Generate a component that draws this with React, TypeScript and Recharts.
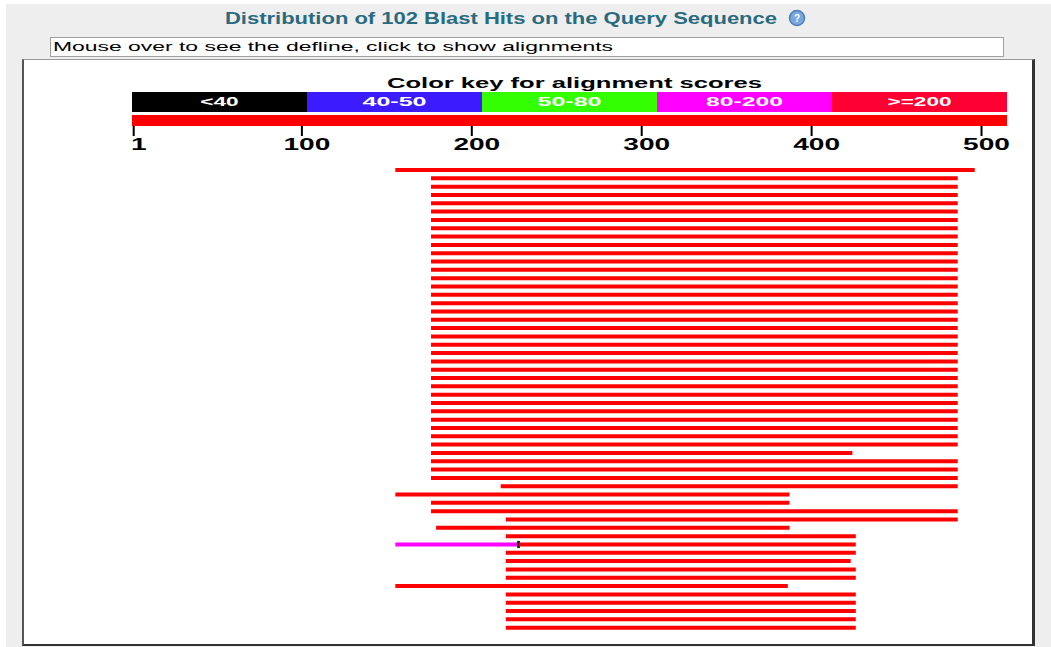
import { BarChart, Bar, XAxis, YAxis, Cell, LabelList } from "recharts"

const queryLength = 515
const axisTicks = [1, 100, 200, 300, 400, 500]

const keyLabels = ["<40", "40-50", "50-80", "80-200", ">=200"]
const keyColors = ["#000000", "#3c1cff", "#33ff00", "#ff00ff", "#ff0033"]

// hit rows, top to bottom (query coordinates)
const hitStart = [
    155, 176, 176, 176, 176, 176, 176, 176, 176, 176,
    176, 176, 176, 176, 176, 176, 176, 176, 176, 176,
    176, 176, 176, 176, 176, 176, 176, 176, 176, 176,
    176, 176, 176, 176, 176, 176, 176, 176, 217, 155,
    176, 176, 220, 179, 220, 155, 220, 220, 220, 220,
    155, 220, 220, 220, 220, 220,
]
const hitEnd = [
    496, 486, 486, 486, 486, 486, 486, 486, 486, 486,
    486, 486, 486, 486, 486, 486, 486, 486, 486, 486,
    486, 486, 486, 486, 486, 486, 486, 486, 486, 486,
    486, 486, 486, 486, 424, 486, 486, 486, 486, 387,
    387, 486, 486, 387, 426, 426, 426, 423, 426, 426,
    386, 426, 426, 426, 426, 426,
]
// part of a hit that scores in the 80-200 class (row number is 1-based)
const lowScoreParts = [{ row: 46, to: 227 }]

const FONT = "'Liberation Sans', Arial, sans-serif"
const HIT_RED = "#ff0000"

const keyRow = [
    keyLabels.reduce((acc: any, _l, i) => ({ ...acc, [`k${i}`]: 1 }), { name: "key" }),
]

const queryRow = [{ name: "Query", len: queryLength }]

const hitRows = hitStart.map((start, i) => {
    const low = lowScoreParts.find((p) => p.row === i + 1)
    const lowEnd = low ? low.to : start
    const mark = low ? 1 : 0
    return {
        name: `hit${i + 1}`,
        pad: start,
        low: lowEnd - start,
        mark,
        high: hitEnd[i] - lowEnd - mark,
    }
})

const KeyLabel = (props: any) => {
    const { x, y, width, height, value } = props
    const text = String(value)
    return (
        <text
            x={x + width / 2}
            y={y + height / 2}
            dy="0.36em"
            textAnchor="middle"
            fill="#ffffff"
            fontFamily={FONT}
            fontWeight="bold"
            fontSize={12}
            textLength={text.length * 12.8}
            lengthAdjust="spacingAndGlyphs"
        >
            {text}
        </text>
    )
}

const AxisTick = (props: any) => {
    const { x, y, payload } = props
    const text = String(payload.value)
    return (
        <text
            x={x + 5}
            y={y + 1}
            dy="0.72em"
            textAnchor="middle"
            fill="#000"
            fontFamily={FONT}
            fontWeight="bold"
            fontSize={16}
            textLength={text.length * 15.6}
            lengthAdjust="spacingAndGlyphs"
        >
            {text}
        </text>
    )
}

const QueryTick = (props: any) => {
    const { y, payload } = props
    return (
        <text
            x={122}
            y={y - 1}
            dy="0.36em"
            textAnchor="end"
            fill="#000"
            fontFamily={FONT}
            fontWeight="bold"
            fontSize={10}
            textLength={72}
            lengthAdjust="spacing"
        >
            {payload.value}
        </text>
    )
}

const GapMark = (props: any) => {
    const { x, y, width, height } = props
    if (!width || width <= 0) return null
    return <rect x={x - 0.5} y={y - 1.5} width={width + 1} height={height + 3} fill="#111" />
}

export default function App() {
    return (
        <div style={{ position: "absolute", left: 0, top: 0, width: 1051, height: 647, background: "#ffffff", overflow: "hidden" }}>
            <div style={{ position: "absolute", left: 6, top: 4, width: 1045, height: 643, background: "#eeeeee" }} />
            {/* defline box */}
            <div style={{ position: "absolute", left: 50, top: 37, width: 952, height: 18, background: "#fff", border: "1px solid #a0a0a0" }} />
            {/* scroll frame */}
            <div
                style={{
                    position: "absolute", left: 22, top: 59, width: 1008, height: 584, background: "#fff",
                    borderLeft: "2px solid #555", borderTop: "1px solid #999", borderRight: "3px solid #333", borderBottom: "2px solid #333",
                }}
            />

            <svg width={1051} height={647} style={{ position: "absolute", left: 0, top: 0 }}>
                <text x={225} y={24} fill="#2a6a7e" fontFamily={FONT} fontWeight="bold" fontSize={16} textLength={552} lengthAdjust="spacingAndGlyphs">
                    Distribution of 102 Blast Hits on the Query Sequence
                </text>
                <circle cx={797} cy={18} r={7.5} fill="#7aa7dc" stroke="#4a7cbf" strokeWidth={1.5} />
                <text x={797} y={22} textAnchor="middle" fill="#fff" fontFamily={FONT} fontWeight="bold" fontSize={10}>?</text>
                <text x={53} y={51} fill="#000" fontFamily={FONT} fontSize={13} textLength={560} lengthAdjust="spacingAndGlyphs">
                    Mouse over to see the defline, click to show alignments
                </text>
                <text x={387} y={87.5} fill="#000" fontFamily={FONT} fontWeight="bold" fontSize={14} textLength={375} lengthAdjust="spacingAndGlyphs">
                    Color key for alignment scores
                </text>
            </svg>

            {/* color key */}
            <div style={{ position: "absolute", left: 0, top: 92 }}>
                <BarChart width={1051} height={20} data={keyRow} layout="vertical" barCategoryGap={0} margin={{ top: 0, right: 44, bottom: 0, left: 132 }}>
                    <XAxis type="number" hide domain={[0, keyLabels.length]} />
                    <YAxis type="category" dataKey="name" hide />
                    {keyLabels.map((label, i) => (
                        <Bar key={label} dataKey={`k${i}`} stackId="key" fill={keyColors[i]} isAnimationActive={false}>
                            <LabelList dataKey={`k${i}`} content={(p: any) => <KeyLabel {...p} value={label} />} />
                        </Bar>
                    ))}
                </BarChart>
            </div>

            {/* query bar + axis */}
            <div style={{ position: "absolute", left: 0, top: 114 }}>
                <BarChart width={1051} height={42} data={queryRow} layout="vertical" barCategoryGap={0} margin={{ top: 0, right: 44, bottom: 0, left: 0 }}>
                    <XAxis
                        type="number"
                        domain={[0, queryLength]}
                        ticks={axisTicks}
                        interval={0}
                        height={30}
                        axisLine={false}
                        tickSize={10}
                        tickMargin={1}
                        tickLine={{ stroke: "#000", strokeWidth: 2 }}
                        tick={<AxisTick />}
                    />
                    <YAxis type="category" dataKey="name" width={132} axisLine={false} tickLine={false} tick={<QueryTick />} />
                    <Bar dataKey="len" fill={HIT_RED} barSize={11} isAnimationActive={false} />
                </BarChart>
            </div>

            {/* hits */}
            <div style={{ position: "absolute", left: 0, top: 166 }}>
                <BarChart width={1051} height={466} data={hitRows} layout="vertical" barCategoryGap={0} margin={{ top: 0, right: 44, bottom: 0, left: 132 }}>
                    <XAxis type="number" hide domain={[0, queryLength]} />
                    <YAxis type="category" dataKey="name" hide />
                    <Bar dataKey="pad" stackId="hit" fill="transparent" barSize={4} isAnimationActive={false} />
                    <Bar dataKey="low" stackId="hit" fill="#ff00ff" barSize={4} isAnimationActive={false} />
                    <Bar dataKey="mark" stackId="hit" fill="#111" barSize={4} shape={<GapMark />} isAnimationActive={false} />
                    <Bar dataKey="high" stackId="hit" barSize={4} isAnimationActive={false}>
                        {hitRows.map((_r, i) => (
                            <Cell key={`c-${i}`} fill={HIT_RED} />
                        ))}
                    </Bar>
                </BarChart>
            </div>
        </div>
    )
}
